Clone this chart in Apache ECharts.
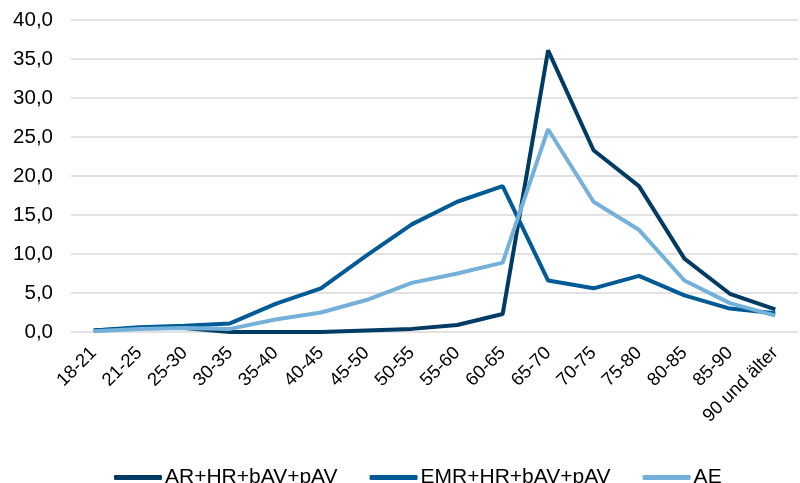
<!DOCTYPE html>
<html>
<head>
<meta charset="utf-8">
<script src="https://cdn.jsdelivr.net/npm/echarts@6/dist/echarts.min.js"></script>
<style>
  html, body { margin: 0; padding: 0; background: #fff; }
  #main { width: 800px; height: 483px; }
</style>
</head>
<body>
<div id="main"></div>
<script>
// Altersgruppen
const categories = ['18-21', '21-25', '25-30', '30-35', '35-40', '40-45', '45-50', '50-55',
  '55-60', '60-65', '65-70', '70-75', '75-80', '80-85', '85-90', '90 und älter'];

const arHr = [0.2, 0.5, 0.5, 0.0, 0.0, 0.0, 0.2, 0.4, 0.9, 2.3, 36.1, 23.3, 18.7, 9.4, 4.9, 2.9];
const emrHr = [0.2, 0.6, 0.8, 1.1, 3.6, 5.6, 9.8, 13.8, 16.7, 18.7, 6.6, 5.6, 7.2, 4.7, 3.0, 2.4];
const ae = [0.1, 0.4, 0.5, 0.4, 1.6, 2.5, 4.1, 6.3, 7.5, 8.9, 26.0, 16.7, 13.1, 6.6, 3.7, 2.1];

const font = 'Liberation Sans, Arial, sans-serif';

var myChart = echarts.init(document.getElementById('main'));

function line(name, data, color) {
  return {
    name: name,
    type: 'line',
    data: data,
    symbol: 'none',
    lineStyle: { width: 4, color: color },
    itemStyle: { color: color },
    animation: false
  };
}

var option = {
  animation: false,
  grid: { left: 71, right: 2, top: 20, bottom: 151 },
  legend: {
    data: ['AR+HR+bAV+pAV', 'EMR+HR+bAV+pAV', 'AE'],
    top: 462,
    left: 109,
    icon: 'roundRect',
    itemWidth: 48,
    itemHeight: 5,
    itemGap: 32,
    textStyle: { fontFamily: font, fontSize: 21, color: '#000', padding: [0, 0, 0, -2] }
  },
  xAxis: {
    type: 'category',
    data: categories,
    boundaryGap: true,
    axisLine: { show: false },
    axisTick: { show: false },
    axisLabel: {
      rotate: 45,
      interval: 0,
      margin: 18,
      fontFamily: font,
      fontSize: 18.5,
      color: '#000'
    }
  },
  yAxis: {
    type: 'value',
    min: 0,
    max: 40,
    interval: 5,
    axisLine: { show: false },
    axisTick: { show: false },
    splitLine: { lineStyle: { color: '#d9d9d9', width: 1.5 } },
    axisLabel: {
      margin: 18,
      fontFamily: font,
      fontSize: 20.5,
      color: '#000',
      formatter: function (v) { return v.toFixed(1).replace('.', ','); }
    }
  },
  series: [
    line('AR+HR+bAV+pAV', arHr, '#003b64'),
    line('EMR+HR+bAV+pAV', emrHr, '#005a96'),
    line('AE', ae, '#74b1da')
  ]
};
myChart.setOption(option);
</script>
</body>
</html>
